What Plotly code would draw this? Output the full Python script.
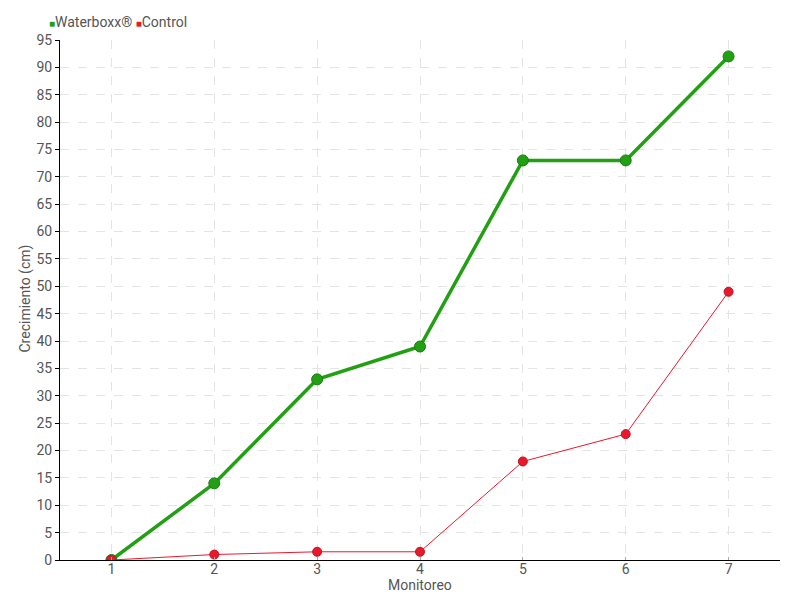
import plotly.graph_objects as go

monitoreo = [1, 2, 3, 4, 5, 6, 7]
waterboxx = [0, 14, 33, 39, 73, 73, 92]
control = [0, 1, 1.5, 1.5, 18, 23, 49]
y_ticks = list(range(0, 100, 5))

FONT = "Roboto, Lato, sans-serif"
GREEN = "#22a014"
RED = "#e8192c"
TXT = "#555555"

fig = go.Figure()
fig.add_trace(go.Scatter(
    x=monitoreo, y=waterboxx, mode="lines+markers", name="Waterboxx®",
    line=dict(color=GREEN, width=3.5),
    marker=dict(color=GREEN, size=11, line=dict(color="#1a7a10", width=1)),
    showlegend=False,
))
fig.add_trace(go.Scatter(
    x=monitoreo, y=control, mode="lines+markers", name="Control",
    line=dict(color=RED, width=1),
    marker=dict(color=RED, size=9, line=dict(color="#c8101f", width=1)),
    showlegend=False,
))

fig.add_annotation(
    xref="paper", yref="paper", x=(47 - 60) / 720, y=1 + (40 - 22) / 520,
    xanchor="left", yanchor="middle",
    text=f"<span style='color:{GREEN};font-size:10px'>■</span>Waterboxx® "
         f"<span style='color:{RED};font-size:10px'>■</span>Control",
    showarrow=False, font=dict(family=FONT, size=14, color=TXT),
)
fig.add_annotation(
    xref="paper", yref="paper", x=0.5, y=(560 - 585) / 520,
    xanchor="center", yanchor="middle", text="Monitoreo",
    showarrow=False, font=dict(family=FONT, size=14, color=TXT),
)
fig.add_annotation(
    xref="paper", yref="paper", x=(14 - 60) / 720, y=(560 - 299) / 520,
    xanchor="left", yanchor="middle", text="Crecimiento (cm)", textangle=-90,
    showarrow=False, font=dict(family=FONT, size=14, color=TXT),
)

fig.update_layout(
    width=800, height=600,
    margin=dict(l=60, r=20, t=40, b=40, autoexpand=False),
    paper_bgcolor="white", plot_bgcolor="white",
    font=dict(family=FONT, size=14, color=TXT),
    xaxis=dict(
        range=[0.5, 7.5], tickvals=monitoreo, ticktext=[str(m) for m in monitoreo],
        showgrid=True, gridcolor="#e4e4e4", griddash="dash", gridwidth=1,
        showline=True, linecolor="black", linewidth=1,
        ticks="inside", ticklen=3, tickcolor="#aaaaaa",
        ticklabelstandoff=-4,
        zeroline=False, automargin=False,
    ),
    yaxis=dict(
        range=[0, 95], tickvals=y_ticks,
        showgrid=True, gridcolor="#e4e4e4", griddash="dash", gridwidth=1,
        showline=True, linecolor="black", linewidth=1,
        ticks="outside", ticklen=4, tickcolor="black",
        zeroline=False, automargin=False,
    ),
)

fig.write_html("out.html", config={"displayModeBar": False},
               post_script="document.body.style.margin='0';")
